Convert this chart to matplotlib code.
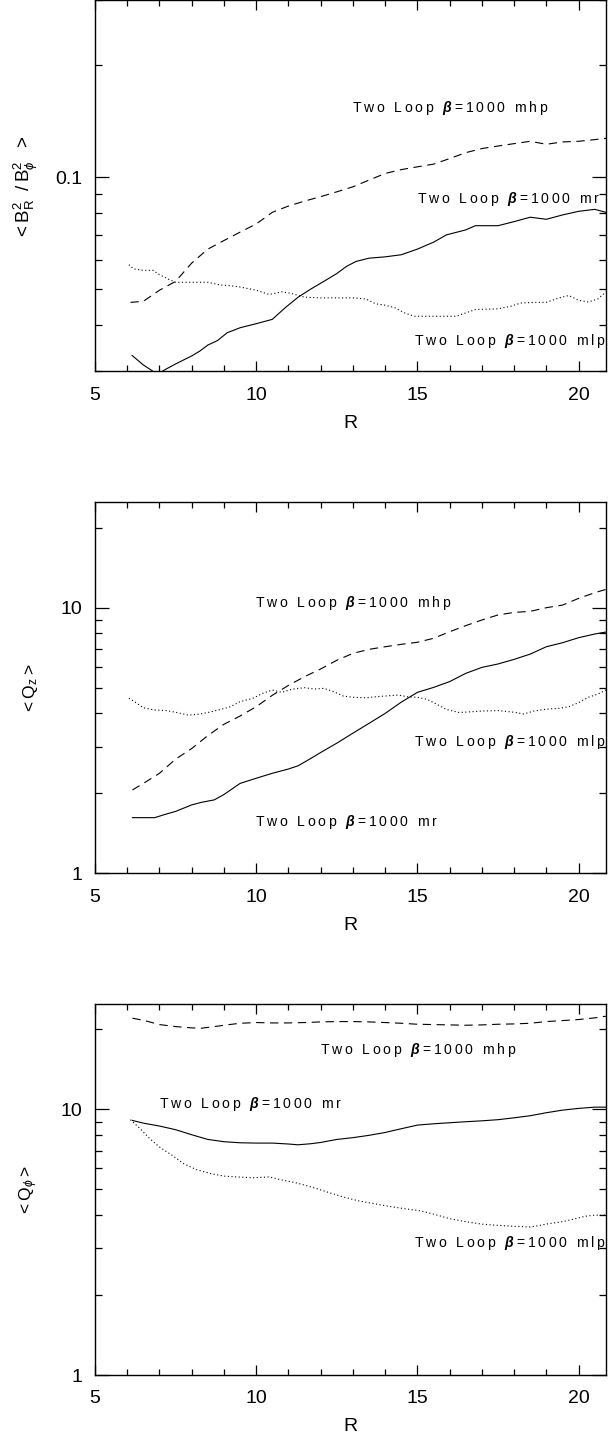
import matplotlib
matplotlib.use("Agg")
import matplotlib.pyplot as plt
from matplotlib.ticker import MultipleLocator, LogLocator, FuncFormatter, NullFormatter

plt.rcParams['font.family'] = ['Liberation Sans', 'DejaVu Sans']
plt.rcParams['mathtext.fontset'] = 'custom'
plt.rcParams['mathtext.rm'] = 'Liberation Sans'
plt.rcParams['mathtext.it'] = 'Liberation Sans:italic'
plt.rcParams['mathtext.bf'] = 'Liberation Sans:bold:italic'
plt.rcParams['lines.scale_dashes'] = False

# ---- panel 1: <B_R^2/B_phi^2>
r_br_mhp = [6.1, 6.5, 7, 7.5, 8, 8.5, 9, 9.5, 10, 10.5, 11, 11.5, 12, 12.5, 13, 13.5, 14,
            14.5, 15, 15.5, 16, 16.5, 17, 17.5, 18, 18.5, 19, 19.5, 20, 20.5, 20.85]
br_mhp = [0.046, 0.0463, 0.0496, 0.0524, 0.0587, 0.064, 0.0675, 0.0711, 0.0748, 0.0804,
          0.0836, 0.0862, 0.0886, 0.0913, 0.0942, 0.0982, 0.1023, 0.1048, 0.1066, 0.1084,
          0.1122, 0.1164, 0.1194, 0.1213, 0.1231, 0.1249, 0.1226, 0.1244, 0.1249, 0.1262, 0.1272]

r_br_mr = [6.15, 6.5, 6.85, 7.0, 7.2, 7.5, 8, 8.25, 8.5, 8.8, 9.1, 9.5, 10, 10.5, 10.9, 11.3,
           11.7, 12.1, 12.5, 12.8, 13.1, 13.5, 14, 14.5, 15, 15.5, 15.9, 16.5, 16.8, 17.5, 18,
           18.5, 19, 19.5, 20, 20.5, 20.85]
br_mr = [0.0331, 0.0312, 0.0298, 0.0297, 0.0304, 0.0314, 0.033, 0.034, 0.0353, 0.0363,
         0.0381, 0.0393, 0.0403, 0.0414, 0.0445, 0.0475, 0.05, 0.0524, 0.055, 0.0575, 0.0593,
         0.0605, 0.061, 0.0618, 0.064, 0.0668, 0.0699, 0.0721, 0.074, 0.074, 0.0759, 0.078,
         0.077, 0.0791, 0.0809, 0.0819, 0.0804]

r_br_mlp = [6.05, 6.2, 6.5, 6.8, 7.0, 7.3, 7.5, 8, 8.5, 8.9, 9.2, 9.5, 10, 10.4, 10.8, 11.1,
            11.5, 12, 13, 13.4, 13.7, 14, 14.3, 14.6, 14.9, 15.5, 16.2, 16.5, 16.8, 17.5, 17.9,
            18.2, 18.6, 19.0, 19.4, 19.7, 20.0, 20.3, 20.6, 20.85]
br_mlp = [0.0581, 0.0566, 0.0561, 0.0561, 0.0546, 0.053, 0.0521, 0.0521, 0.0521, 0.0512,
          0.051, 0.0506, 0.0496, 0.0483, 0.0491, 0.0486, 0.0475, 0.0473, 0.0473, 0.047, 0.0456,
          0.0452, 0.0445, 0.0431, 0.0422, 0.0422, 0.0422, 0.0431, 0.044, 0.0442, 0.0449, 0.0458,
          0.046, 0.046, 0.0473, 0.048, 0.0466, 0.0461, 0.047, 0.0491]

# ---- panel 2: <Q_z>
r_qz_mhp = [6.16, 6.5, 7, 7.5, 8, 8.5, 9, 9.5, 10, 10.5, 11, 11.5, 12, 12.5, 13, 13.5, 14,
            14.5, 15, 15.5, 16, 16.5, 17, 17.5, 18, 18.5, 19, 19.5, 20, 20.5, 20.85]
qz_mhp = [2.06, 2.18, 2.38, 2.69, 2.95, 3.30, 3.64, 3.91, 4.24, 4.68, 5.10, 5.50, 5.88, 6.34,
          6.73, 6.97, 7.13, 7.28, 7.41, 7.67, 8.12, 8.56, 8.99, 9.39, 9.60, 9.69, 10.0, 10.23,
          10.84, 11.39, 11.72]

r_qz_mr = [6.16, 6.5, 6.85, 7.2, 7.5, 8, 8.3, 8.7, 9, 9.5, 10, 10.5, 11, 11.3, 11.7, 12, 12.5,
           13, 13.5, 14, 14.5, 15, 15.5, 16, 16.5, 17, 17.5, 18, 18.5, 19, 19.5, 20, 20.5, 20.85]
qz_mr = [1.62, 1.62, 1.62, 1.67, 1.71, 1.81, 1.85, 1.89, 1.98, 2.18, 2.28, 2.38, 2.47, 2.54,
         2.71, 2.85, 3.09, 3.37, 3.67, 4.00, 4.41, 4.80, 5.01, 5.27, 5.66, 5.96, 6.14, 6.39,
         6.69, 7.13, 7.38, 7.71, 7.96, 8.10]

r_qz_mlp = [6.05, 6.2, 6.5, 6.85, 7.2, 7.5, 7.9, 8.2, 8.5, 8.9, 9.2, 9.5, 9.9, 10.2, 10.5, 10.8,
            11.1, 11.5, 11.8, 12.1, 12.4, 12.7, 13, 13.4, 13.7, 14, 14.4, 14.7, 15, 15.3, 15.6,
            15.9, 16.3, 16.7, 17, 17.5, 18, 18.3, 18.6, 19, 19.4, 19.7, 20, 20.3, 20.6, 20.85]
qz_mlp = [4.56, 4.45, 4.20, 4.12, 4.10, 4.04, 3.94, 3.97, 4.03, 4.14, 4.24, 4.43, 4.56, 4.76,
          4.90, 4.80, 4.93, 5.00, 4.94, 4.97, 4.83, 4.65, 4.60, 4.58, 4.62, 4.65, 4.69, 4.62,
          4.60, 4.52, 4.33, 4.14, 4.03, 4.06, 4.08, 4.10, 4.04, 3.98, 4.08, 4.15, 4.18, 4.24,
          4.39, 4.60, 4.73, 4.90]

# ---- panel 3: <Q_phi>
r_qp_mhp = [6.16, 6.5, 7, 7.5, 8, 8.3, 8.7, 9, 9.5, 10, 10.5, 11, 11.5, 12, 12.5, 13, 13.5, 14,
            14.5, 15, 15.5, 16, 16.5, 17, 17.5, 18, 18.5, 19, 19.5, 20, 20.5, 20.85]
qp_mhp = [22.05, 21.67, 20.87, 20.51, 20.28, 20.22, 20.51, 20.75, 21.11, 21.24, 21.17, 21.17,
          21.24, 21.36, 21.42, 21.42, 21.36, 21.24, 21.11, 20.93, 20.87, 20.81, 20.75, 20.81,
          20.93, 20.99, 21.11, 21.42, 21.61, 21.80, 22.12, 22.44]

r_qp_mr = [6.16, 6.5, 7, 7.5, 8, 8.5, 9, 9.5, 10, 10.5, 11, 11.3, 11.7, 12, 12.5, 13, 13.5, 14,
           14.5, 15, 15.5, 16, 16.5, 17, 17.5, 18, 18.5, 19, 19.5, 20, 20.5, 20.85]
qp_mr = [9.09, 8.88, 8.66, 8.39, 8.03, 7.71, 7.56, 7.49, 7.47, 7.47, 7.41, 7.36, 7.43, 7.51,
         7.71, 7.83, 7.99, 8.19, 8.46, 8.73, 8.83, 8.91, 8.99, 9.06, 9.15, 9.30, 9.47, 9.72,
         9.94, 10.09, 10.20, 10.20]

r_qp_mlp = [6.1, 6.4, 6.7, 7, 7.4, 7.75, 8.15, 8.6, 9, 9.4, 9.9, 10.4, 10.75, 11.25, 11.7, 12.2,
            12.7, 13.2, 13.65, 14.1, 14.6, 15.1, 15.55, 16, 16.55, 17, 17.5, 18, 18.5, 18.7,
            19.1, 19.45, 19.8, 20.2, 20.5, 20.85]
qp_mlp = [9.15, 8.46, 7.76, 7.22, 6.71, 6.25, 5.93, 5.73, 5.61, 5.57, 5.53, 5.57, 5.44, 5.29,
          5.11, 4.89, 4.68, 4.52, 4.42, 4.32, 4.23, 4.15, 4.02, 3.88, 3.77, 3.70, 3.66, 3.63,
          3.61, 3.64, 3.72, 3.77, 3.85, 3.96, 4.00, 4.00]

TS = '\u2009'  # thin space, to mimic the wide IDL letter spacing


def spaced(s):
    return TS.join(s)


def run_label(tag):
    return spaced("Two Loop ") + TS + r"$\mathbf{\beta}$" + TS + spaced("=1000 " + tag)


lbl_mhp = run_label("mhp")
lbl_mr = run_label("mr")
lbl_mlp = run_label("mlp")

ylab_br = "<" + TS + r"B$_{\rm R}^2$" + TS + " /" + TS + r"B$_\phi^2$" + TS + "  >"
ylab_qz = "<" + TS + r"Q$_{\rm z}$" + TS + ">"
ylab_qp = "<" + TS + r"Q$_\phi$" + TS + ">"

panels = [
    dict(series=[(r_br_mhp, br_mhp), (r_br_mr, br_mr), (r_br_mlp, br_mlp)],
         ylim=(0.03, 0.3), ylabel=ylab_br, ylsize=13.5,
         text=[(12.98, 0.154, lbl_mhp), (15.0, 0.0873, lbl_mr), (14.9, 0.0362, lbl_mlp)]),
    dict(series=[(r_qz_mhp, qz_mhp), (r_qz_mr, qz_mr), (r_qz_mlp, qz_mlp)],
         ylim=(1, 25), ylabel=ylab_qz, ylsize=12.5,
         text=[(9.96, 10.38, lbl_mhp), (9.96, 1.565, lbl_mr), (14.9, 3.13, lbl_mlp)]),
    dict(series=[(r_qp_mhp, qp_mhp), (r_qp_mr, qp_mr), (r_qp_mlp, qp_mlp)],
         ylim=(1, 25), ylabel=ylab_qp, ylsize=12.5,
         text=[(11.98, 16.67, lbl_mhp), (6.98, 10.5, lbl_mr), (14.9, 3.13, lbl_mlp)]),
]
styles = [(0, (6, 4)), '-', (0, (0.8, 1.8))]
bottoms = [0.7427, 0.3948, 0.0471]

fig = plt.figure(figsize=(6.11, 14.43), dpi=100)
for p, b in zip(panels, bottoms):
    ax = fig.add_axes([0.1555, b, 0.8363, 0.2573])
    for (x, y), ls in zip(p['series'], styles):
        ax.plot(x, y, color='black', lw=0.8, linestyle=ls)
    ax.set_yscale('log')
    ax.set_xlim(5, 20.85)
    ax.set_ylim(*p['ylim'])
    ax.xaxis.set_major_locator(MultipleLocator(5))
    ax.xaxis.set_minor_locator(MultipleLocator(1))
    ax.yaxis.set_major_locator(LogLocator(base=10))
    ax.yaxis.set_minor_locator(LogLocator(base=10, subs=range(2, 10)))
    ax.yaxis.set_major_formatter(FuncFormatter(lambda v, pos: f"{v:g}"))
    ax.yaxis.set_minor_formatter(NullFormatter())
    ax.tick_params(which='both', direction='in', top=True, right=True, width=0.9,
                   labelsize=14, colors='black')
    ax.tick_params(axis='x', which='major', length=7, pad=11)
    ax.tick_params(axis='x', which='minor', length=4)
    ax.tick_params(axis='y', which='major', length=10, pad=9)
    ax.tick_params(axis='y', which='minor', length=5)
    for s in ax.spines.values():
        s.set_linewidth(1.0)
    ax.set_xlabel("R", fontsize=14, labelpad=8)
    ax.set_ylabel(p['ylabel'], fontsize=p['ylsize'])
    ax.yaxis.set_label_coords(-0.108, 0.5)
    for tx, ty, t in p['text']:
        ax.text(tx, ty, t, fontsize=10.1, ha='left', va='center')

fig.savefig("out.png", dpi=100)
